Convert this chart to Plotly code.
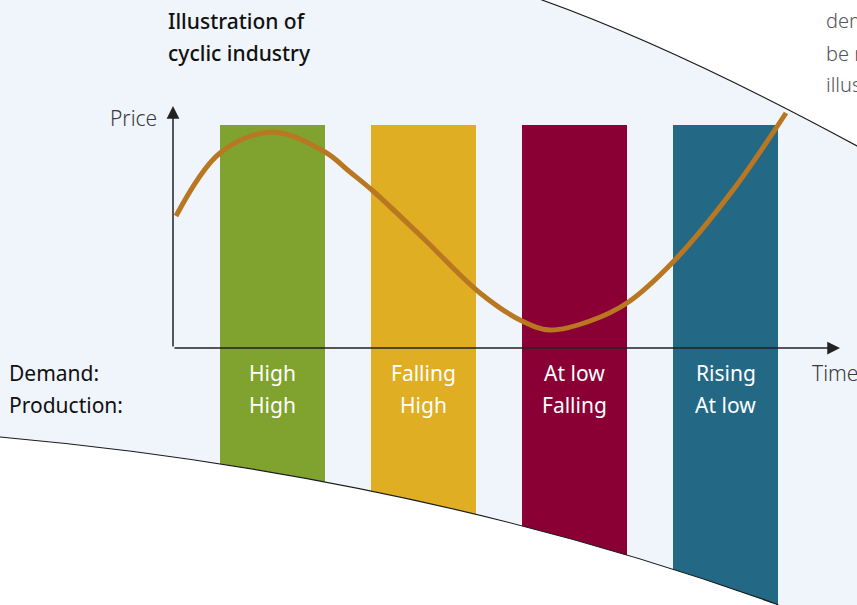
import plotly.graph_objects as go

# ---------------- data ----------------
phases = ["Phase 1", "Phase 2", "Phase 3", "Phase 4"]
phase_time = [99.5, 250.5, 401.5, 552.5]      # centre of each phase on the time axis
phase_top = [223, 223, 223, 223]
phase_colors = ["#80a330", "#e0ae22", "#8b0034", "#236986"]
demand = ["High", "Falling", "At low", "Rising"]
production = ["High", "High", "Falling", "At low"]

time_pts = [3, 47, 99, 152, 177, 200, 250, 307, 349, 377, 417, 454, 500, 560, 613]
price_pts = [132, 195, 216, 196, 176, 157, 110, 55, 27, 18, 27, 45, 86, 158, 235]

W, H = 857, 605
FONT = "Noto Sans"


def px(x):
    return x / W


def py(y):
    return 1 - y / H


def path(cmds):
    out = []
    for c in cmds:
        if isinstance(c, str):
            out.append(c)
        else:
            out.append(f"{px(c[0]):.5f},{py(c[1]):.5f}")
    return " ".join(out)


fig = go.Figure()

fig.add_trace(go.Bar(
    x=phase_time, y=[t + 257 for t in phase_top], base=-257, width=105,
    marker=dict(color=phase_colors, line=dict(width=0)),
    hoverinfo="skip",
))

fig.add_trace(go.Scatter(
    x=time_pts, y=price_pts, mode="lines",
    line=dict(color="#b97722", width=5, shape="spline", smoothing=1),
    hoverinfo="skip",
))

shapes = [
    # white region above the upper curve
    dict(type="path", xref="paper", yref="paper", layer="above",
         path=path(["M", (528, -8), "L", (542, 0), "Q", (676, 48), (857, 146),
                    "L", (875, 156), "L", (875, -30), "L", (528, -30), "Z"]),
         fillcolor="white", line=dict(color="#1a1a1a", width=1.2)),
    # white region below the lower curve
    dict(type="path", xref="paper", yref="paper", layer="above",
         path=path(["M", (-10, 436), "L", (0, 437), "Q", (416, 474.4), (776, 604),
                    "L", (790, 611), "L", (790, 630), "L", (-10, 630), "Z"]),
         fillcolor="white", line=dict(color="#1a1a1a", width=1.2)),
]

ann = []
# axes arrows
ann.append(dict(x=0, y=242, ax=0, ay=0, xref="x", yref="y", axref="x", ayref="y",
                text="", showarrow=True, arrowhead=2, arrowsize=1.7, arrowwidth=1.5,
                arrowcolor="#222", standoff=0, startstandoff=0))
ann.append(dict(x=667, y=0, ax=0, ay=0, xref="x", yref="y", axref="x", ayref="y",
                text="", showarrow=True, arrowhead=2, arrowsize=1.7, arrowwidth=1.5,
                arrowcolor="#222", standoff=0, startstandoff=0))


def label(text, x, y, size=21, color="#111", anchor="left", weight=400):
    ann.append(dict(text=text, x=px(x), y=py(y), xref="paper", yref="paper",
                    xanchor=anchor, yanchor="middle", showarrow=False,
                    font=dict(family=FONT, size=size, color=color, weight=weight)))


label("Illustration of", 166, 21, weight=500)
label("cyclic industry", 166, 53, weight=500)
label("Price", 159, 118, color="#3a3a3a", anchor="right", weight=300)
label("Time", 810, 373, color="#3a3a3a", weight=300)
label("Demand:", 7, 373)
label("Production:", 7, 405)
label("demand", 824, 21, size=20, color="#555", weight=300)
label("be met", 824, 53, size=20, color="#555", weight=300)
label("illustrated", 824, 85, size=20, color="#555", weight=300)

for t, d, p in zip(phase_time, demand, production):
    ann.append(dict(text=d, x=t, y=-25, xref="x", yref="y", showarrow=False,
                    font=dict(family=FONT, size=21, color="white")))
    ann.append(dict(text=p, x=t, y=-57, xref="x", yref="y", showarrow=False,
                    font=dict(family=FONT, size=21, color="white")))

fig.update_layout(
    width=W, height=H, margin=dict(l=0, r=0, t=0, b=0),
    paper_bgcolor="#f0f5fc", plot_bgcolor="rgba(0,0,0,0)",
    xaxis=dict(range=[-173, 684], visible=False, fixedrange=True),
    yaxis=dict(range=[-257, 348], visible=False, fixedrange=True),
    showlegend=False, shapes=shapes, annotations=ann, bargap=0,
)

fig.write_html("out.html")
